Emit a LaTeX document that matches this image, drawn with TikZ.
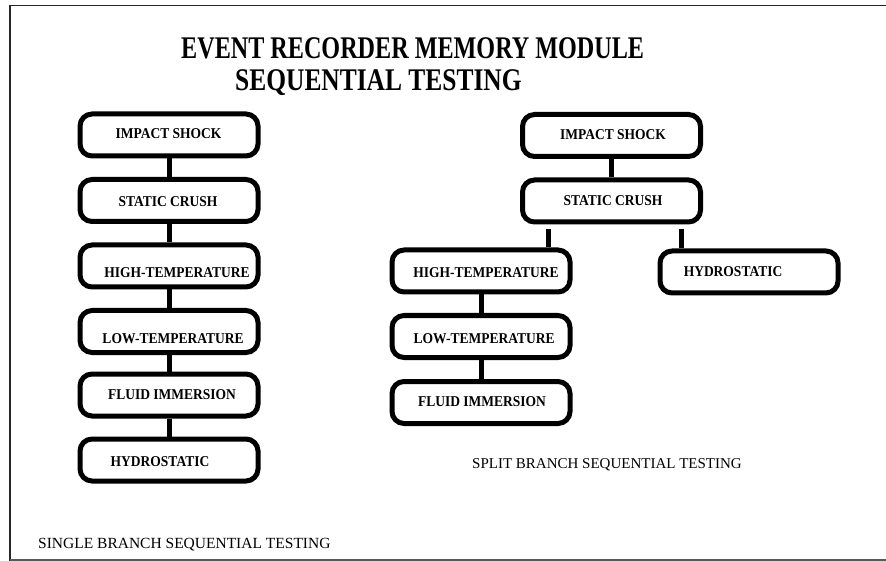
\documentclass[tikz,border=0pt]{standalone}
\usepackage{fontspec}
\setmainfont{Liberation Serif}
\usepackage{graphicx}
\newcommand\bxt[1]{\scalebox{0.9}[1]{#1}}
\begin{document}
\begin{tikzpicture}[x=1pt,y=-1pt,
  box/.style={draw, line width=5pt, rounded corners=12pt, minimum width=178pt, minimum height=42pt, inner sep=0pt},
  conn/.style={line width=5pt},
  lbl/.style={inner sep=0pt, font=\fontsize{15}{15}\selectfont\bfseries},
  captext/.style={inner sep=0pt, anchor=base west, font=\fontsize{15}{15}\selectfont},
  titlef/.style={inner sep=0pt, anchor=base west, font=\fontsize{31.5}{31.5}\selectfont\bfseries},
  frameline/.style={line width=1.6pt, black!85}]
\useasboundingbox (0,0) rectangle (886,561);
% frame
\draw[frameline] (886,5.5) -- (10,5.5) -- (10,561);
\draw[frameline, line width=2pt, black!65] (10,560) -- (886,560);
% title
\node[titlef] (t1) at (181,59) {\scalebox{0.767}[1]{EVENT RECORDER MEMORY MODULE}};
\node[titlef] (t2) at (235,91) {\scalebox{0.808}[1]{SEQUENTIAL TESTING}};
% left column
\node[box] (L1) at (169,135) {};
\node[box] (L2) at (169,200.5) {};
\node[box] (L3) at (169,266) {};
\node[box] (L4) at (169,331.5) {};
\node[box] (L5) at (169,395) {};
\node[box] (L6) at (169,460) {};
\node[lbl] (L1t) at (168.5,134) {\bxt{IMPACT SHOCK}};
\node[lbl] (L2t) at (168,202) {\bxt{STATIC CRUSH}};
\node[lbl] (L3t) at (177,273) {\bxt{HIGH-TEMPERATURE}};
\node[lbl] (L4t) at (173,339) {\bxt{LOW-TEMPERATURE}};
\node[lbl] (L5t) at (172,395) {\bxt{FLUID IMMERSION}};
\node[lbl] (L6t) at (160,462) {\bxt{HYDROSTATIC}};
\draw[conn] (L1) -- (L2);
\draw[conn] (L2) -- (L3);
\draw[conn] (L3) -- (L4);
\draw[conn] (L4) -- (L5);
\draw[conn] (L5) -- (L6);
% right tree
\node[box] (R1) at (611.5,135.5) {};
\node[box] (R2) at (611.5,201) {};
\node[box] (R3) at (481,271) {};
\node[box] (R4) at (481,336.5) {};
\node[box] (R5) at (481,402.5) {};
\node[box] (RH) at (749,272) {};
\node[lbl] (R1t) at (613,135) {\bxt{IMPACT SHOCK}};
\node[lbl] (R2t) at (613,201) {\bxt{STATIC CRUSH}};
\node[lbl] (R3t) at (486,273) {\bxt{HIGH-TEMPERATURE}};
\node[lbl] (R4t) at (484,339) {\bxt{LOW-TEMPERATURE}};
\node[lbl] (R5t) at (482,402) {\bxt{FLUID IMMERSION}};
\node[lbl] (RHt) at (733,272) {\bxt{HYDROSTATIC}};
\draw[conn] (R1) -- (R2);
\draw[conn] (R3) -- (R4);
\draw[conn] (R4) -- (R5);
\coordinate (b1) at (548,229);
\coordinate (b2) at (681,229);
\draw[conn] (b1) -- (b1 |- R3.north);
\draw[conn] (b2) -- (b2 |- RH.north);
% captions
\node[captext] (c1) at (472,468) {SPLIT BRANCH SEQUENTIAL TESTING};
\node[captext, font=\fontsize{15.5}{15.5}\selectfont] (c2) at (38,548.5) {SINGLE BRANCH SEQUENTIAL TESTING};
\end{tikzpicture}
\end{document}
